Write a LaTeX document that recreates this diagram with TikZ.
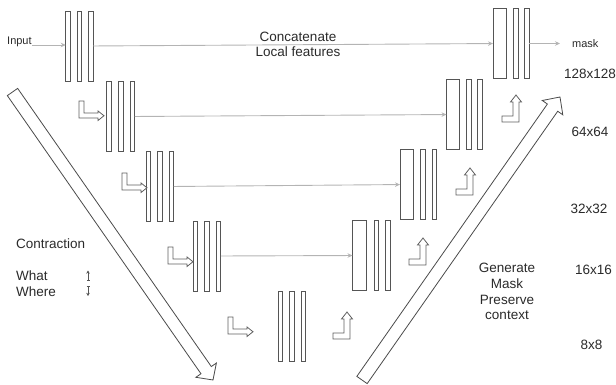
\documentclass[tikz,border=0pt]{standalone}
\usepackage{fontspec}
\setmainfont{Liberation Sans}
\usetikzlibrary{arrows.meta,calc}
\definecolor{barc}{HTML}{555555}
\definecolor{linec}{HTML}{B4B4B4}
\definecolor{txtc}{HTML}{2A2A2A}
\definecolor{arrc}{HTML}{606060}
\definecolor{bigc}{HTML}{4A4A4A}
\begin{document}
\begin{tikzpicture}[x=1pt,y=-1pt,
  bar/.style={draw=barc, fill=white, line width=0.8pt, minimum width=4.5pt, minimum height=70pt, inner sep=0pt, outer sep=0pt},
  wbar/.style={bar, minimum width=13pt},
  skip/.style={draw=linec, line width=0.9pt, -{Stealth[length=5pt,width=4.5pt]}},
  lbl/.style={font=\fontsize{13.5}{16}\selectfont, text=txtc, inner sep=0pt},
  small/.style={font=\fontsize{11}{13}\selectfont, text=txtc, inner sep=0pt},
  larrow/.style={draw=arrc, line width=0.8pt, fill=white, line join=miter},
  big/.style={draw=bigc, line width=0.8pt, line join=miter},
  tiny/.style={draw=txtc!80, line width=0.6pt, {Bar[width=3pt,line width=0.6pt]}-{Stealth[length=3.2pt,width=3.6pt]}},
  rightL/.pic={\draw[larrow] (0,0) -- (5,0) -- (5,12) -- (19,12) -- (19,10) -- (25,14.75) -- (19,19.5) -- (19,17) -- (0,17) -- cycle;},
  upL/.pic={\draw[larrow] (0,0) -- (0,-6) -- (11,-6) -- (11,-20) -- (8.5,-20) -- (14,-27) -- (19.5,-20) -- (17,-20) -- (17,0) -- cycle;}
]
\useasboundingbox (0,0) rectangle (616,385);

% big arrows
\coordinate (lt) at (12.5,92);
\coordinate (lh) at (213,380);
\coordinate (lb) at ($(lh)!12pt!(lt)$);
\draw[big] ($(lt)!6.3pt!90:(lh)$) -- ($(lb)!6.3pt!90:(lh)$) -- ($(lb)!12.5pt!90:(lh)$) -- (lh) -- ($(lb)!12.5pt!-90:(lh)$) -- ($(lb)!6.3pt!-90:(lh)$) -- ($(lt)!6.3pt!-90:(lh)$) -- cycle;
\coordinate (rt) at (362,380);
\coordinate (rh) at (560,97);
\coordinate (rb) at ($(rh)!13pt!(rt)$);
\draw[big] ($(rt)!6.3pt!90:(rh)$) -- ($(rb)!6.3pt!90:(rh)$) -- ($(rb)!12.5pt!90:(rh)$) -- (rh) -- ($(rb)!12.5pt!-90:(rh)$) -- ($(rb)!6.3pt!-90:(rh)$) -- ($(rt)!6.3pt!-90:(rh)$) -- cycle;

% encoder
\node[bar] (e11) at (68,46) {};
\node[bar] (e12) at (79.5,46) {};
\node[bar] (e13) at (91,46) {};
\node[bar] (e21) at (109,116.5) {};
\node[bar] (e22) at (121,116.5) {};
\node[bar] (e23) at (132.5,116.5) {};
\node[bar] (e31) at (148.5,186.5) {};
\node[bar] (e32) at (160,186.5) {};
\node[bar] (e33) at (171.5,186.5) {};
\node[bar] (e41) at (195.5,256) {};
\node[bar] (e42) at (207,256) {};
\node[bar] (e43) at (218.5,256) {};
\node[bar] (e51) at (280.5,326.5) {};
\node[bar] (e52) at (292,326.5) {};
\node[bar] (e53) at (303.5,326.5) {};

% decoder
\node[wbar] (d11) at (499.5,43.5) {};
\node[bar] (d12) at (516,43.5) {};
\node[bar] (d13) at (527,43.5) {};
\node[wbar] (d21) at (453,114.5) {};
\node[bar] (d22) at (469,114.5) {};
\node[bar] (d23) at (480,114.5) {};
\node[wbar] (d31) at (406.5,184.5) {};
\node[bar] (d32) at (423,184.5) {};
\node[bar] (d33) at (434.5,184.5) {};
\node[wbar, minimum width=14pt] (d41) at (359.5,255.5) {};
\node[bar] (d42) at (376.5,255.5) {};
\node[bar] (d43) at (388,255.5) {};

% skip connections
\draw[skip] (e13) -- (d11);
\draw[skip] (e23) -- (d21);
\draw[skip] (e33) -- (d31);
\draw[skip] (e43) -- (d41);

% input / output
\node[small, anchor=base west] (in) at (7,45) {Input};
\draw[skip] (in.base east) -- (in.base east -| e11.west);
\coordinate (mo) at (560,43.5);
\draw[skip] (d13) -- (mo);
\node[small, anchor=base west] (mask) at (572,48) {mask};

% L arrows
\pic at (79,101) {rightL};
\pic at (122,173) {rightL};
\pic at (168,247) {rightL};
\pic at (228,317) {rightL};
\pic at (502,122) {upL};
\pic at (456,195) {upL};
\pic at (409,265) {upL};
\pic at (333,339) {upL};

% texts
\node[lbl, align=center, anchor=north, font=\fontsize{13.5}{15.5}\selectfont] (cc) at (298,31.8) {Concatenate\\Local features};
\node[lbl, anchor=base west] (con) at (16,248) {Contraction};
\node[lbl, anchor=base west] (what) at (16,280) {What};
\node[lbl, anchor=base west] (where) at (16,296) {Where};
\coordinate (wa1) at (88,280.5);
\coordinate (wa2) at (88,270.5);
\coordinate (wb1) at (88,286);
\coordinate (wb2) at (88,296);
\draw[tiny] (wa1) -- (wa2);
\draw[tiny] (wb1) -- (wb2);
\node[lbl, align=center, anchor=north, font=\fontsize{13.5}{15.7}\selectfont] (gen) at (507,263) {Generate\\Mask\\Preserve\\context};
\node[lbl, anchor=base] (s128) at (590,79) {128x128};
\node[lbl, anchor=base] (s64) at (590,136.5) {64x64};
\node[lbl, anchor=base] (s32) at (589,213) {32x32};
\node[lbl, anchor=base] (s16) at (593.5,274) {16x16};
\node[lbl, anchor=base] (s8) at (591.5,349) {8x8};
\end{tikzpicture}
\end{document}
